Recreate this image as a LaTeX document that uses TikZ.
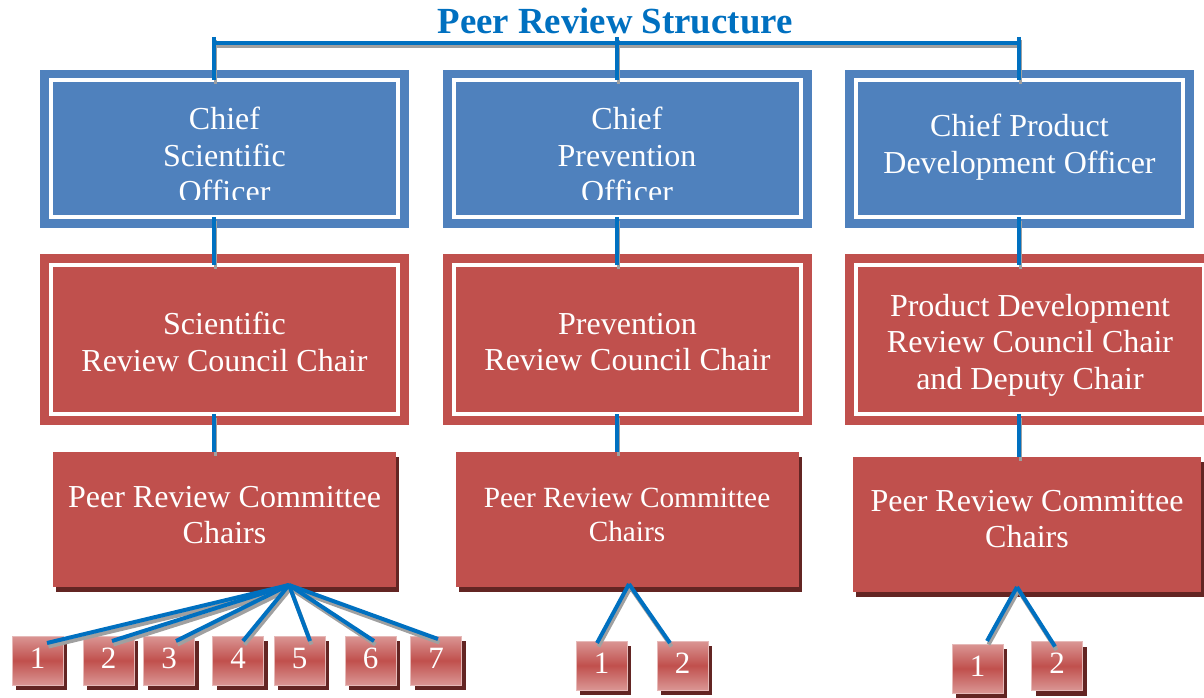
\documentclass[tikz,border=0pt]{standalone}
\usepackage{fontspec}
\setmainfont{Liberation Serif}
\usetikzlibrary{calc,shadows}
\definecolor{boxblue}{HTML}{4F81BD}
\definecolor{boxred}{HTML}{C0504D}
\definecolor{linkblue}{HTML}{0070C0}
\definecolor{shadowred}{HTML}{632523}
\definecolor{lightred}{HTML}{DA9694}
\definecolor{edgered}{HTML}{E6B9B8}
\definecolor{lineshadow}{HTML}{A0A0A0}
% all connectors, drawn with the given colour (used once for the shadow, once for the line)
\newcommand{\prslinks}[1]{%
  \draw[link, draw=#1] (busL) -- (busR);
  \draw[link, draw=#1] (tL) -- (tL |- cso.north);
  \draw[link, draw=#1] (tM) -- (tM |- cpo.north);
  \draw[link, draw=#1] (tR) -- (tR |- cpdo.north);
  \draw[link, draw=#1] (tL |- cso.south) -- (tL |- src.north);
  \draw[link, draw=#1] (tM |- cpo.south) -- (tM |- prc.north);
  \draw[link, draw=#1] (tR |- cpdo.south) -- (tR |- pdrc.north);
  \draw[link, draw=#1] (tL |- src.south) -- (tL |- lprc.north);
  \draw[link, draw=#1] (tM |- prc.south) -- (tM |- mprc.north);
  \draw[link, draw=#1] (tR |- pdrc.south) -- (tR |- rprc.north);
  \foreach \n/\dx/\dy in {1/9.5/7, 2/3.5/5, 3/7/5, 4/5/5, 5/10.5/5, 6/3.5/5, 7/2/3}
    \draw[fan, draw=#1] (lapex) -- ($(l\n.north)+(\dx,\dy)$);
  \draw[fan, draw=#1] (mapex) -- ($(m1.north)+(-4.5,2)$);
  \draw[fan, draw=#1] (mapex) -- ($(m2.north)+(-12.5,2)$);
  \draw[fan, draw=#1] (rapex) -- ($(r1.north)+(9.5,-3)$);
  \draw[fan, draw=#1] (rapex) -- ($(r2.north)+(-2,5)$);
}
\begin{document}
\begin{tikzpicture}[x=1pt,y=-1pt,
  every node/.style={inner sep=0pt, outer sep=0pt},
  frameblue/.style={rectangle, fill=boxblue},
  innerblue/.style={rectangle, fill=boxblue, draw=white, line width=4pt},
  framered/.style={rectangle, fill=boxred},
  innerred/.style={rectangle, fill=boxred, draw=white, line width=4pt},
  chairbox/.style={rectangle, fill=boxred, minimum height=135pt,
    drop shadow={shadow xshift=3pt, shadow yshift=-5pt, fill=shadowred, opacity=1}},
  boxtext/.style={text=white, align=center, font=\fontsize{32}{36.5}\selectfont},
  smallbox/.style={rectangle, minimum width=51pt, minimum height=49pt,
    draw=edgered, line width=1pt, top color=lightred, bottom color=lightred, middle color=boxred,
    drop shadow={shadow xshift=4pt, shadow yshift=-5pt, fill=shadowred, opacity=1}},
  digit/.style={text=white, font=\fontsize{31}{31}\selectfont},
  link/.style={draw=linkblue, line width=3.5pt},
  fan/.style={link, line width=4pt}
]
\useasboundingbox (0,0) rectangle (1204,698);
\clip (0,0) rectangle (1204,698);

% title
\node[text=linkblue, font=\bfseries\fontsize{36.8}{40}\selectfont, anchor=base] (title) at (615,34) {Peer Review Structure};

% officers
\node[frameblue, minimum width=369pt, minimum height=158pt] (csoF) at (224.5,149) {};
\node[innerblue, minimum width=347pt, minimum height=136.5pt] (cso) at (224.5,148.75) {};
\node[frameblue, minimum width=369pt, minimum height=158pt] (cpoF) at (627.5,149) {};
\node[innerblue, minimum width=347pt, minimum height=136.5pt] (cpo) at (627.5,148.75) {};
\node[frameblue, minimum width=349pt, minimum height=158pt] (cpdoF) at (1019.5,149) {};
\node[innerblue, minimum width=327pt, minimum height=136.5pt] (cpdo) at (1019.5,148.75) {};

\begin{scope}
  \clip (0,60) rectangle (1204,199);
  \node[boxtext] (csoT) at (224.5,155) {Chief\\Scientific\\Officer};
  \node[boxtext] (cpoT) at (627,155) {Chief\\Prevention\\Officer};
\end{scope}
\node[boxtext] (cpdoT) at (1019.5,147) {Chief Product\\Development Officer};

% councils
\node[framered, minimum width=369pt, minimum height=171pt] (srcF) at (224.5,339.5) {};
\node[innerred, minimum width=347pt, minimum height=149pt] (src) at (224.5,339.75) {};
\node[framered, minimum width=369pt, minimum height=171pt] (prcF) at (627.5,339.5) {};
\node[innerred, minimum width=347pt, minimum height=149pt] (prc) at (627.5,339.75) {};
\node[framered, minimum width=370pt, minimum height=171pt] (pdrcF) at (1030,339.5) {};
\node[innerred, minimum width=348pt, minimum height=149pt] (pdrc) at (1030,339.75) {};

\node[boxtext] (srcT) at (224.5,342) {Scientific\\Review Council Chair};
\node[boxtext] (prcT) at (627.5,342) {Prevention\\Review Council Chair};
\node[boxtext] (pdrcT) at (1030,345) {Product Development\\Review Council Chair\\and Deputy Chair};

% committee chairs
\node[chairbox, minimum width=343pt] (lprc) at (224.5,519.5) {};
\node[chairbox, minimum width=343pt] (mprc) at (627.5,519.5) {};
\node[chairbox, minimum width=348pt] (rprc) at (1027,524.5) {};

\node[boxtext, font=\fontsize{32}{36}\selectfont] (lprcT) at (224.5,515.5) {Peer Review Committee\\Chairs};
\node[boxtext, font=\fontsize{29.3}{34}\selectfont] (mprcT) at (627,515) {Peer Review Committee\\Chairs};
\node[boxtext, font=\fontsize{32}{36}\selectfont] (rprcT) at (1027,519.5) {Peer Review Committee\\Chairs};

% numbered committees
\node[smallbox] (l1) at (37.5,660.5) {};
\node[smallbox] (l2) at (108.5,660.5) {};
\node[smallbox] (l3) at (169,660.5) {};
\node[smallbox] (l4) at (238,660.5) {};
\node[smallbox] (l5) at (299.5,660.5) {};
\node[smallbox] (l6) at (370.5,660.5) {};
\node[smallbox] (l7) at (436,660.5) {};
\node[smallbox] (m1) at (601.5,665.5) {};
\node[smallbox] (m2) at (682.5,665.5) {};
\node[smallbox] (r1) at (977.5,668.5) {};
\node[smallbox] (r2) at (1057,666) {};
\foreach \b/\t in {l1/1,l2/2,l3/3,l4/4,l5/5,l6/6,l7/7,m1/1,m2/2,r1/1,r2/2}
  \node[digit] (\b T) at ([yshift=2.5pt]\b.center) {\t};

% connectors
\coordinate (tL) at (214,37);
\coordinate (tM) at (617,37);
\coordinate (tR) at (1019,37);
\coordinate (busL) at (214,43);
\coordinate (busR) at (1019,43);
\coordinate (lapex) at (289,585);
\coordinate (mapex) at (629,584);
\coordinate (rapex) at (1017,587);
\begin{scope}[transform canvas={shift={(1.5pt,-3.5pt)}}]
  \prslinks{lineshadow}
\end{scope}
\prslinks{linkblue}
\end{tikzpicture}
\end{document}
